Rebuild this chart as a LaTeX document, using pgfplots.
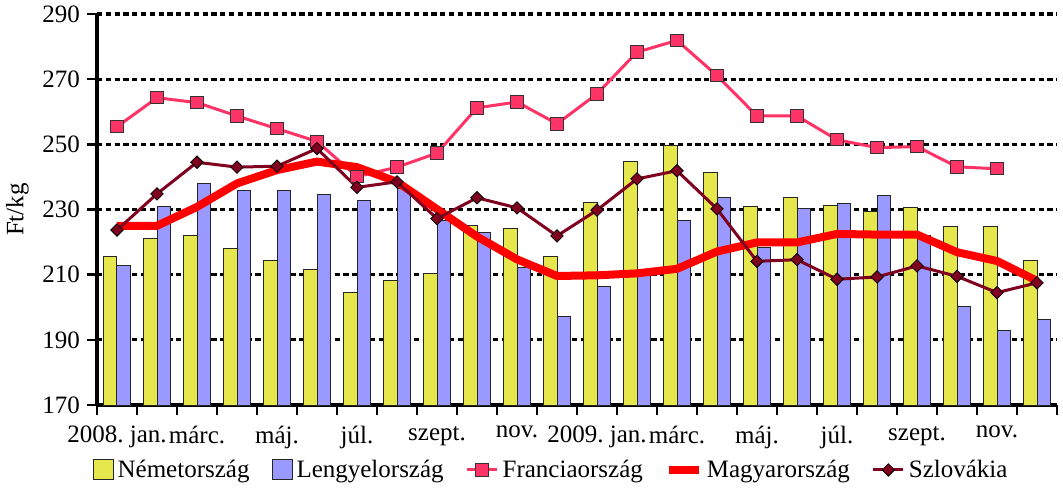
\documentclass[border=0pt]{standalone}
\usepackage{fontspec}
\setmainfont{Liberation Serif}
\usepackage{pgfplots}
\pgfplotsset{compat=1.18}
\usepackage{pgfplotstable}

\definecolor{nemet}{RGB}{230,230,77}
\definecolor{lengyel}{RGB}{153,153,255}
\definecolor{fra}{RGB}{255,51,102}
\definecolor{magyar}{RGB}{255,0,0}
\definecolor{szlo}{RGB}{128,0,32}

\pgfplotsset{
  barlegend/.style={legend image code/.code={\draw[##1] (0pt,-5pt) rectangle (10pt,5pt);}},
  linelegend/.style={legend image code/.code={\draw[mark repeat=2,mark phase=2,##1] plot coordinates {(0pt,0pt)(7.5pt,0pt)(15pt,0pt)};}},
}

\pgfplotstableread{
x N L
0 215.5 212.7
1 221.0 231.0
2 222.0 238.1
3 218.1 235.9
4 214.5 235.7
5 211.7 234.5
6 204.5 232.7
7 208.2 236.3
8 210.4 226.5
9 225.0 222.8
10 224.1 212.3
11 215.7 197.2
12 232.3 206.4
13 244.8 210.5
14 249.6 226.7
15 241.4 233.7
16 230.9 218.3
17 233.7 230.2
18 231.3 231.7
19 229.3 234.2
20 230.6 222.0
21 224.8 200.2
22 224.8 193.0
23 214.4 196.3
}\bars

\pgfplotstableread{
x F
0 255.4
1 264.3
2 262.8
3 258.7
4 254.8
5 250.9
6 240.1
7 243.0
8 247.3
9 261.2
10 263.0
11 256.3
12 265.5
13 278.3
14 281.9
15 271.1
16 258.7
17 258.7
18 251.4
19 249.0
20 249.3
21 243.1
22 242.5
}\fra

\pgfplotstableread{
x M S
0 225.0 223.7
1 225.0 234.8
2 230.8 244.5
3 238.0 243.0
4 242.1 243.3
5 244.7 248.7
6 243.0 236.8
7 238.5 238.5
8 230.1 227.2
9 221.7 233.6
10 214.7 230.5
11 209.6 221.9
12 209.8 229.8
13 210.4 239.4
14 211.8 241.9
15 217.1 230.2
16 219.9 214.1
17 219.9 214.6
18 222.5 208.6
19 222.3 209.3
20 222.3 212.7
21 216.9 209.5
22 214.2 204.5
23 208.1 207.5
}\lines

\begin{document}
\begin{tikzpicture}[font=\fontsize{12.5pt}{15pt}\selectfont\frenchspacing]
\useasboundingbox (-48.5pt,-45pt) rectangle (483pt,202.5pt);
\begin{axis}[
  at={(0pt,0pt)}, anchor=south west,
  scale only axis, width=480pt, height=195.5pt,
  xmin=-0.5, xmax=23.5, ymin=170, ymax=290,
  axis x line*=bottom, axis y line*=left,
  axis line style={-, line width=1.6pt, black},
  ytick={170,190,...,290},
  ymajorgrids,
  grid style={black, line width=1.6pt, dash pattern=on 2.6pt off 1.8pt},
  xtick={0,2,...,22},
  xticklabels={2008.\ jan., márc., máj., júl., szept., nov., 2009.\ jan., márc., máj., júl., szept., nov.},
  minor xtick={-0.5,0.5,...,23.5},
  tick align=outside,
  major tick length=5pt, minor tick length=5pt,
  major x tick style={draw=none},
  tick style={black, line width=1.3pt},
  xticklabel style={yshift=-2pt},
  /pgf/number format/assume math mode=true,
  ylabel={Ft/kg},
  ylabel style={at={(axis description cs:-0.083,0.5)}, anchor=center},
  linelegend,
  legend style={at={(0.474,-0.166)}, anchor=center, draw=none, fill=none,
    legend columns=5, /tikz/every even column/.append style={column sep=9pt},
    font=\fontsize{12.5pt}{15pt}\selectfont},
]
\addplot[ybar, bar width=6.75pt, bar shift=-3.375pt, fill=nemet, draw=black!85, line width=0.5pt, barlegend]
  table[x=x,y=N]{\bars};
\addlegendentry{Németország}
\addplot[ybar, bar width=6.75pt, bar shift=3.375pt, fill=lengyel, draw=black!85, line width=0.5pt, barlegend]
  table[x=x,y=L]{\bars};
\addlegendentry{Lengyelország}
\addplot[sharp plot, color=fra, line width=1.5pt, mark=square*, mark size=3.1pt,
  mark options={fill=fra, draw=black!80, line width=0.5pt}]
  table[x=x,y=F]{\fra};
\addlegendentry{Franciaország}
\addplot[sharp plot, color=magyar, line width=4pt, line join=round, no marks]
  table[x=x,y=M]{\lines};
\addlegendentry{Magyarország}
\addplot[sharp plot, color=szlo, line width=1.5pt, mark=square*, mark size=2.2pt,
  mark options={rotate=45, fill=szlo, draw=black, line width=0.4pt}]
  table[x=x,y=S]{\lines};
\addlegendentry{Szlovákia}
\end{axis}
\end{tikzpicture}
\end{document}
